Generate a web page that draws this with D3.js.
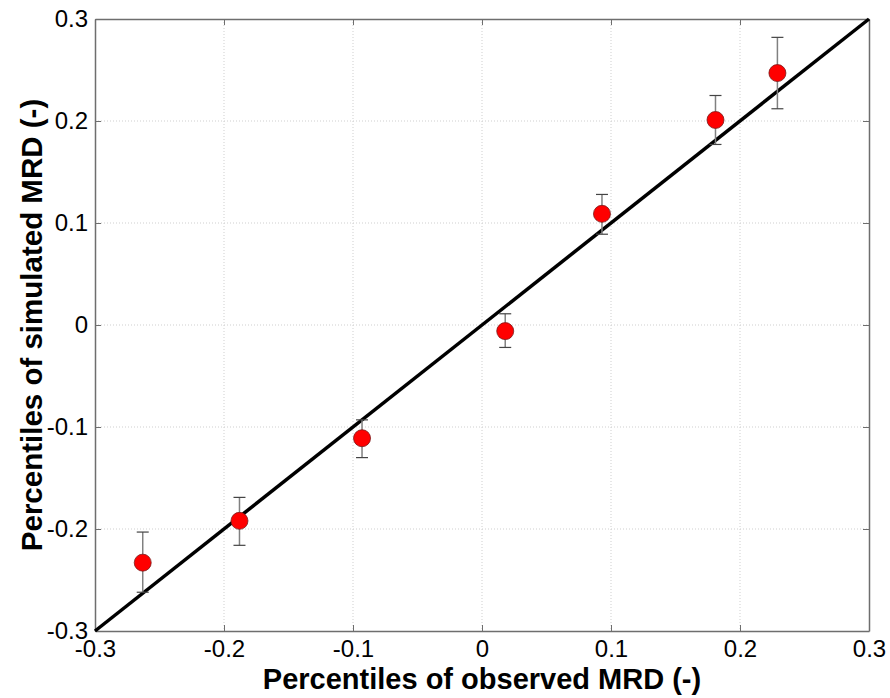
<!DOCTYPE html>
<html><head><meta charset="utf-8">
<script src="https://cdn.jsdelivr.net/npm/d3@7"></script>
<style>html,body{margin:0;padding:0;background:#fff;}svg{display:block;}</style>
</head><body>
<svg id="c" width="890" height="698"></svg>
<script>
const observed = [-0.263, -0.188, -0.093, 0.018, 0.093, 0.181, 0.229];
const simulated = [-0.233, -0.192, -0.111, -0.006, 0.109, 0.201, 0.247];
const errLow = [-0.262, -0.216, -0.130, -0.022, 0.089, 0.177, 0.212];
const errHigh = [-0.203, -0.169, -0.093, 0.011, 0.128, 0.225, 0.282];
const ticks = [-0.3, -0.2, -0.1, 0, 0.1, 0.2, 0.3];
const tickLabels = ["-0.3", "-0.2", "-0.1", "0", "0.1", "0.2", "0.3"];
const xTitle = "Percentiles of observed MRD (-)";
const yTitle = "Percentiles of simulated MRD (-)";

const L = 95, R = 869, T = 19, B = 631;
const svg = d3.select("#c");
const x = d3.scaleLinear().domain([-0.3, 0.3]).range([L, R]);
const y = d3.scaleLinear().domain([-0.3, 0.3]).range([B, T]);
const font = "Arial, 'Liberation Sans', sans-serif";

// grid
const g = svg.append("g");
ticks.slice(1, -1).forEach(t => {
  g.append("line").attr("x1", x(t)).attr("x2", x(t)).attr("y1", T).attr("y2", B)
    .attr("stroke", "#cfcfcf").attr("stroke-width", 1).attr("stroke-dasharray", "1,2");
  g.append("line").attr("y1", y(t)).attr("y2", y(t)).attr("x1", L).attr("x2", R)
    .attr("stroke", "#cfcfcf").attr("stroke-width", 1).attr("stroke-dasharray", "1,2");
});

// axes
const fmt = d => tickLabels[ticks.indexOf(ticks.find(t => Math.abs(t - d) < 1e-9))];
const xa = svg.append("g").attr("transform", `translate(0,${B})`)
  .call(d3.axisBottom(x).tickValues(ticks).tickFormat(fmt).tickSizeInner(-6).tickSizeOuter(0).tickPadding(9));
const xt = svg.append("g").attr("transform", `translate(0,${T})`)
  .call(d3.axisTop(x).tickValues(ticks).tickFormat("").tickSizeInner(-6).tickSizeOuter(0));
const ya = svg.append("g").attr("transform", `translate(${L},0)`)
  .call(d3.axisLeft(y).tickValues(ticks).tickFormat(fmt).tickSizeInner(-6).tickSizeOuter(0).tickPadding(7));
const yr = svg.append("g").attr("transform", `translate(${R},0)`)
  .call(d3.axisRight(y).tickValues(ticks).tickFormat("").tickSizeInner(-6).tickSizeOuter(0));
[xa, xt, ya, yr].forEach(a => {
  a.select(".domain").attr("stroke", "#6e6e6e").attr("stroke-width", 1.5);
  a.selectAll(".tick line").attr("stroke", "#6e6e6e");
  a.selectAll("text").attr("font-family", font).attr("font-size", 24).attr("fill", "#000");
});
xa.selectAll("text").attr("dy", "0.71em");

// identity line
svg.append("line").attr("x1", x(-0.3)).attr("y1", y(-0.3)).attr("x2", x(0.3)).attr("y2", y(0.3))
  .attr("stroke", "#000").attr("stroke-width", 3.5);

// error bars
const idx = d3.range(observed.length);
const eb = svg.append("g");
idx.forEach(i => {
  eb.append("line").attr("x1", x(observed[i])).attr("x2", x(observed[i]))
    .attr("y1", y(errLow[i])).attr("y2", y(errHigh[i])).attr("stroke", "#808080").attr("stroke-width", 1.5);
  [errLow[i], errHigh[i]].forEach(v => {
    eb.append("line").attr("x1", x(observed[i]) - 6).attr("x2", x(observed[i]) + 6)
      .attr("y1", y(v)).attr("y2", y(v)).attr("stroke", "#444").attr("stroke-width", 1.2);
  });
});

// markers
svg.append("g").selectAll("circle").data(idx).join("circle")
  .attr("cx", i => x(observed[i])).attr("cy", i => y(simulated[i])).attr("r", 8.5)
  .attr("fill", "#ff0000").attr("stroke", "#7a1a1a").attr("stroke-width", 0.8);

// titles
svg.append("text").attr("x", (L + R) / 2).attr("y", 689).attr("text-anchor", "middle")
  .attr("font-family", font).attr("font-weight", "bold").attr("font-size", 29).text(xTitle);
svg.append("text").attr("transform", `translate(42,${(T + B) / 2}) rotate(-90)`).attr("text-anchor", "middle")
  .attr("font-family", font).attr("font-weight", "bold").attr("font-size", 29.5).text(yTitle);
</script>
</body></html>
